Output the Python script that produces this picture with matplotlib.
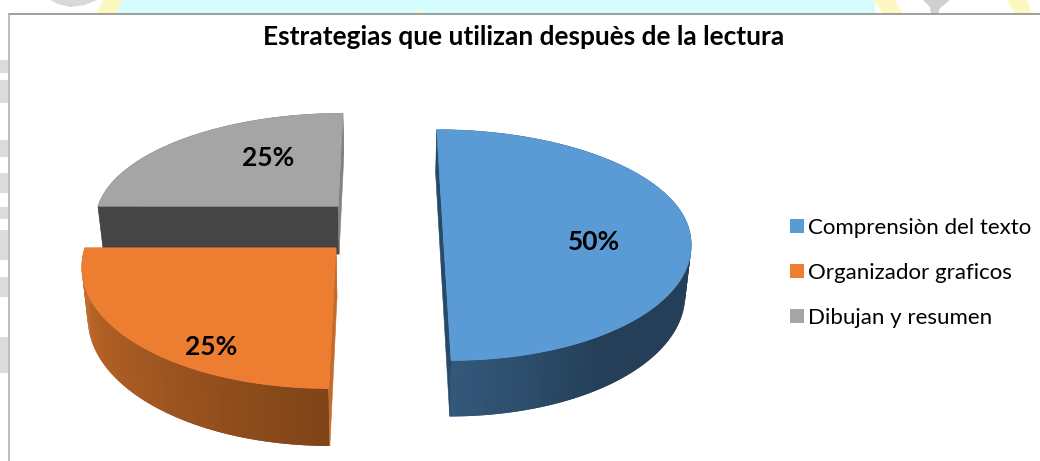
#----------------------------------------------------------#
#      3D EXPLODED PIE - ESTRATEGIAS DESPUES DE LA LECTURA
#----------------------------------------------------------#
import numpy as np
import matplotlib
matplotlib.use('Agg')
import matplotlib.pyplot as plt
from matplotlib.patches import Polygon, Rectangle, Patch
from matplotlib.colors import to_rgb

title = 'Estrategias que utilizan despuès de la lectura'
categories = ['Comprensiòn del texto', 'Organizador graficos', 'Dibujan y resumen']
values = [50, 25, 25]

top_colors = ['#5b9bd5', '#ed7d31', '#a5a5a5']
face_colors = [('#264a68', '#264a68'), ('#c56c2b', '#c56c2b'), ('#454545', '#828282')]
side_colors = [('#34597c', '#243f57'), ('#7f4418', '#cb6e2b'), ('#6e6e6e', '#6e6e6e')]
side_ramp = [35, 90, 90]   # degrees over which the side colour goes from first to second
explode = [62, 65, 65]
label_xy = [(594, 242), (211, 347), (268, 158)]

# perspective of the pie plane, in image pixels
xv, yv = 385, -700
H = 947
c = 0.0005
R = 251
R_far = R - 12
R_near = R + 7
depth = 50
shrink = 0.98
pie_u, pie_v = -3, 44


def top_pt(u, v):
    s = 1 / (1 + c * v)
    return xv + u * s, yv + H * s


def low_pt(u, v):
    s = 1 / (1 + c * v)
    return xv + shrink * u * s, yv + (H + depth) * s


fig = plt.figure(figsize=(10.4, 4.61), dpi=100)
ax = fig.add_axes([0, 0, 1, 1])
ax.set_xlim(0, 1040)
ax.set_ylim(461, 0)
ax.axis('off')

# what is left of the page behind the chart
ax.add_patch(Rectangle((115, 0), 760, 14, color='#d6fdfe', lw=0))
for pts in [[(97, 14), (103, 0), (122, 0), (116, 14)],
            [(873, 0), (895, 0), (903, 14), (884, 14)],
            [(1007, 0), (1027, 0), (1032, 14), (1015, 14)],
            [(415, 14), (418, 9), (423, 14)]]:
    ax.add_patch(Polygon(pts, color='#fdf8c0', lw=0))
ax.add_patch(Polygon([(50, 0), (97, 0), (85, 5), (70, 7), (58, 4)], color='#d9d9d9', lw=0))
ax.add_patch(Polygon([(923, 0), (950, 0), (940, 8), (938, 14), (931, 14), (930, 7)], color='#cfcfcf', lw=0))
for y0, h0 in [(60, 13), (80, 23), (140, 17), (173, 20), (207, 12), (230, 30), (277, 20), (337, 36)]:
    ax.add_patch(Rectangle((0, y0), 8, h0, color='#dcdcdc', lw=0))

# chart frame, only top and left edges show
ax.plot([9, 1040], [14, 14], color='#8f8f8f', lw=1.2)
ax.plot([9, 9], [14, 461], color='#b0b0b0', lw=1.2)

# draw far slice first
stops = np.cumsum([0] + values) / sum(values) * 360
for i in [2, 1, 0]:
    a0, a1 = np.radians(stops[i]), np.radians(stops[i + 1])
    mid = (a0 + a1) / 2
    u0 = pie_u + explode[i] * np.sin(mid)
    v0 = pie_v + explode[i] * np.cos(mid)
    ang = np.linspace(a0, a1, 121)
    us = u0 + R * np.sin(ang)
    vs = v0 + np.where(np.cos(ang) > 0, R_far, R_near) * np.cos(ang)

    # curved side, lighter or darker by how far from the bottom of the pie
    c1, c2 = to_rgb(side_colors[i][0]), to_rgb(side_colors[i][1])
    for k in range(len(ang) - 1):
        t = abs(np.degrees(ang[k]) - 180) / side_ramp[i]
        t = min(t, 1)
        col = [c1[j] + (c2[j] - c1[j]) * t for j in range(3)]
        e = min(k + 2, len(ang) - 1)   # overlap the next strip so no seams show
        quad = [top_pt(us[k], vs[k]), top_pt(us[e], vs[e]), low_pt(us[e], vs[e]), low_pt(us[k], vs[k])]
        ax.add_patch(Polygon(quad, facecolor=col, edgecolor='none', lw=0))

    # the two cut faces
    for n, col in zip([0, -1], face_colors[i]):
        quad = [top_pt(u0, v0), top_pt(us[n], vs[n]), low_pt(us[n], vs[n]), low_pt(u0, v0)]
        ax.add_patch(Polygon(quad, facecolor=col, edgecolor=col, lw=0.4))

    # top of the slice
    outline = [top_pt(u0, v0)] + [top_pt(a, b) for a, b in zip(us, vs)]
    ax.add_patch(Polygon(outline, facecolor=top_colors[i], edgecolor=top_colors[i], lw=0.4))

    ax.text(label_xy[i][0], label_xy[i][1], '%d%%' % values[i], family='Lato', weight='bold',
            fontsize=19, ha='center', va='center', color='black')

ax.text(524, 37, title, family='Lato', weight='bold', fontsize=18.9, ha='center', va='center', color='black')

handles = [Patch(facecolor=top_colors[i], label=categories[i]) for i in range(len(categories))]
ax.legend(handles=handles, loc='upper left', bbox_to_anchor=(790, 218), bbox_transform=ax.transData,
          frameon=False, prop={'family': 'Lato', 'size': 16}, handlelength=0.63, handleheight=0.63,
          handletextpad=0.18, labelspacing=1.12, borderpad=0, borderaxespad=0)

fig.savefig('out.png', dpi=100)
